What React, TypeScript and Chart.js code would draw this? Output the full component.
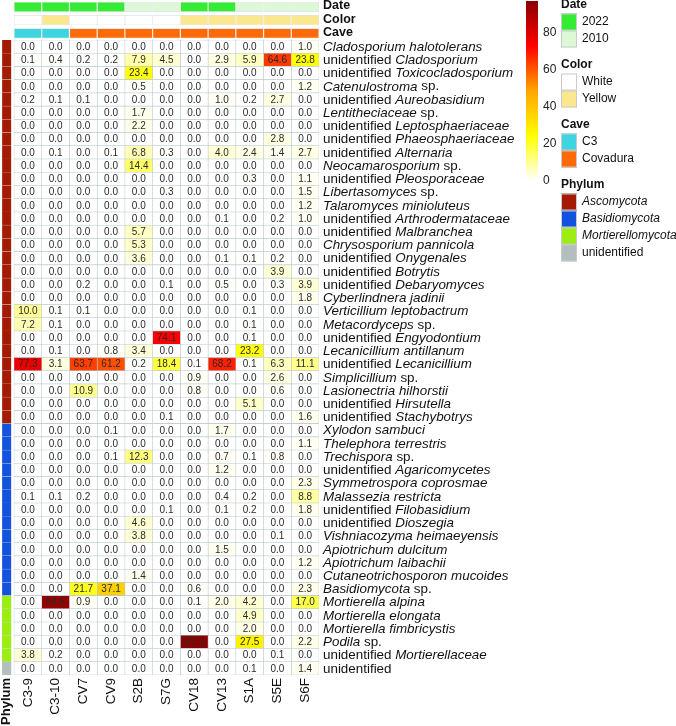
import React, { useEffect, useRef } from 'react';
import { Chart, registerables } from 'chart.js';
Chart.register(...registerables);

const columns = ['C3-9', 'C3-10', 'CV7', 'CV9', 'S2B', 'S7G', 'CV18', 'CV13', 'S1A', 'S5E', 'S6F'];
const dateAnn = ['2022', '2022', '2022', '2022', '2010', '2010', '2022', '2022', '2010', '2010', '2010'];
const colorAnn = ['White', 'Yellow', 'White', 'White', 'White', 'White', 'Yellow', 'Yellow', 'Yellow', 'Yellow', 'Yellow'];
const caveAnn = ['C3', 'C3', 'Covadura', 'Covadura', 'Covadura', 'Covadura', 'Covadura', 'Covadura', 'Covadura', 'Covadura', 'Covadura'];

const taxa = [
  'Cladosporium halotolerans',
  'unidentified Cladosporium',
  'unidentified Toxicocladosporium',
  'Catenulostroma sp.',
  'unidentified Aureobasidium',
  'Lentitheciaceae sp.',
  'unidentified Leptosphaeriaceae',
  'unidentified Phaeosphaeriaceae',
  'unidentified Alternaria',
  'Neocamarosporium sp.',
  'unidentified Pleosporaceae',
  'Libertasomyces sp.',
  'Talaromyces minioluteus',
  'unidentified Arthrodermataceae',
  'unidentified Malbranchea',
  'Chrysosporium pannicola',
  'unidentified Onygenales',
  'unidentified Botrytis',
  'unidentified Debaryomyces',
  'Cyberlindnera jadinii',
  'Verticillium leptobactrum',
  'Metacordyceps sp.',
  'unidentified Engyodontium',
  'Lecanicillium antillanum',
  'unidentified Lecanicillium',
  'Simplicillium sp.',
  'Lasionectria hilhorstii',
  'unidentified Hirsutella',
  'unidentified Stachybotrys',
  'Xylodon sambuci',
  'Thelephora terrestris',
  'Trechispora sp.',
  'unidentified Agaricomycetes',
  'Symmetrospora coprosmae',
  'Malassezia restricta',
  'unidentified Filobasidium',
  'unidentified Dioszegia',
  'Vishniacozyma heimaeyensis',
  'Apiotrichum dulcitum',
  'Apiotrichum laibachii',
  'Cutaneotrichosporon mucoides',
  'Basidiomycota sp.',
  'Mortierella alpina',
  'Mortierella elongata',
  'Mortierella fimbricystis',
  'Podila sp.',
  'unidentified Mortierellaceae',
  'unidentified',
];

const taxonPhylum = [
  ...Array(29).fill('Ascomycota'),
  ...Array(13).fill('Basidiomycota'),
  ...Array(5).fill('Mortierellomycota'),
  'unidentified',
];

// rows = taxa, columns = samples (C3-9 ... S6F)
const values = [
  [0.0, 0.0, 0.0, 0.0, 0.0, 0.0, 0.0, 0.0, 0.0, 0.0, 1.0],
  [0.1, 0.4, 0.2, 0.2, 7.9, 4.5, 0.0, 2.9, 5.9, 64.6, 23.8],
  [0.0, 0.0, 0.0, 0.0, 23.4, 0.0, 0.0, 0.0, 0.0, 0.0, 0.0],
  [0.0, 0.0, 0.0, 0.0, 0.5, 0.0, 0.0, 0.0, 0.0, 0.0, 1.2],
  [0.2, 0.1, 0.1, 0.0, 0.0, 0.0, 0.0, 1.0, 0.2, 2.7, 0.0],
  [0.0, 0.0, 0.0, 0.0, 1.7, 0.0, 0.0, 0.0, 0.0, 0.0, 0.0],
  [0.0, 0.0, 0.0, 0.0, 2.2, 0.0, 0.0, 0.0, 0.0, 0.0, 0.0],
  [0.0, 0.0, 0.0, 0.0, 0.0, 0.0, 0.0, 0.0, 0.0, 2.8, 0.0],
  [0.0, 0.1, 0.0, 0.1, 6.8, 0.3, 0.0, 4.0, 2.4, 1.4, 2.7],
  [0.0, 0.0, 0.0, 0.0, 14.4, 0.0, 0.0, 0.0, 0.0, 0.0, 0.0],
  [0.0, 0.0, 0.0, 0.0, 0.0, 0.0, 0.0, 0.0, 0.3, 0.0, 1.1],
  [0.0, 0.0, 0.0, 0.0, 0.0, 0.3, 0.0, 0.0, 0.0, 0.0, 1.5],
  [0.0, 0.0, 0.0, 0.0, 0.0, 0.0, 0.0, 0.0, 0.0, 0.0, 1.2],
  [0.0, 0.0, 0.0, 0.0, 0.0, 0.0, 0.0, 0.1, 0.0, 0.2, 1.0],
  [0.0, 0.0, 0.0, 0.0, 5.7, 0.0, 0.0, 0.0, 0.0, 0.0, 0.0],
  [0.0, 0.0, 0.0, 0.0, 5.3, 0.0, 0.0, 0.0, 0.0, 0.0, 0.0],
  [0.0, 0.0, 0.0, 0.0, 3.6, 0.0, 0.0, 0.1, 0.1, 0.2, 0.0],
  [0.0, 0.0, 0.0, 0.0, 0.0, 0.0, 0.0, 0.0, 0.0, 3.9, 0.0],
  [0.0, 0.0, 0.2, 0.0, 0.0, 0.1, 0.0, 0.5, 0.0, 0.3, 3.9],
  [0.0, 0.0, 0.0, 0.0, 0.0, 0.0, 0.0, 0.0, 0.0, 0.0, 1.8],
  [10.0, 0.1, 0.1, 0.0, 0.0, 0.0, 0.0, 0.0, 0.1, 0.0, 0.0],
  [7.2, 0.1, 0.0, 0.0, 0.0, 0.0, 0.0, 0.0, 0.1, 0.0, 0.0],
  [0.0, 0.0, 0.0, 0.0, 0.0, 74.1, 0.0, 0.0, 0.1, 0.0, 0.0],
  [0.0, 0.1, 0.0, 0.8, 3.4, 0.0, 0.0, 0.0, 23.2, 0.0, 0.0],
  [77.3, 3.1, 63.7, 61.2, 0.2, 18.4, 0.1, 68.2, 0.1, 6.3, 11.1],
  [0.0, 0.0, 0.0, 0.0, 0.0, 0.0, 0.9, 0.0, 0.0, 2.6, 0.0],
  [0.0, 0.0, 10.9, 0.0, 0.0, 0.0, 0.8, 0.0, 0.0, 0.6, 0.0],
  [0.0, 0.0, 0.0, 0.0, 0.0, 0.0, 0.0, 0.0, 5.1, 0.0, 0.0],
  [0.0, 0.0, 0.0, 0.0, 0.0, 0.1, 0.0, 0.0, 0.0, 0.0, 1.6],
  [0.0, 0.0, 0.0, 0.1, 0.0, 0.0, 0.0, 1.7, 0.0, 0.0, 0.0],
  [0.0, 0.0, 0.0, 0.0, 0.0, 0.0, 0.0, 0.0, 0.0, 0.0, 1.1],
  [0.0, 0.0, 0.0, 0.1, 12.3, 0.0, 0.0, 0.7, 0.1, 0.8, 0.0],
  [0.0, 0.0, 0.0, 0.0, 0.0, 0.0, 0.0, 1.2, 0.0, 0.0, 0.0],
  [0.0, 0.0, 0.0, 0.0, 0.0, 0.0, 0.0, 0.0, 0.0, 0.0, 2.3],
  [0.1, 0.1, 0.2, 0.0, 0.0, 0.0, 0.0, 0.4, 0.2, 0.0, 8.8],
  [0.0, 0.0, 0.0, 0.0, 0.0, 0.1, 0.0, 0.1, 0.2, 0.0, 1.8],
  [0.0, 0.0, 0.0, 0.0, 4.6, 0.0, 0.0, 0.0, 0.0, 0.0, 0.0],
  [0.0, 0.0, 0.0, 0.0, 3.8, 0.0, 0.0, 0.0, 0.0, 0.1, 0.0],
  [0.0, 0.0, 0.0, 0.0, 0.0, 0.0, 0.0, 1.5, 0.0, 0.0, 0.0],
  [0.0, 0.0, 0.0, 0.0, 0.0, 0.0, 0.0, 0.0, 0.0, 0.0, 1.2],
  [0.0, 0.0, 0.0, 0.0, 1.4, 0.0, 0.0, 0.0, 0.0, 0.0, 0.0],
  [0.0, 0.0, 21.7, 37.1, 0.0, 0.0, 0.6, 0.0, 0.0, 0.0, 2.3],
  [0.0, 94.6, 0.9, 0.0, 0.0, 0.0, 0.1, 2.0, 4.2, 0.0, 17.0],
  [0.0, 0.0, 0.0, 0.0, 0.0, 0.0, 0.0, 0.0, 4.9, 0.0, 0.0],
  [0.0, 0.0, 0.0, 0.0, 0.0, 0.0, 0.0, 0.0, 2.0, 0.0, 0.0],
  [0.0, 0.0, 0.0, 0.0, 0.0, 0.0, 97.3, 0.0, 27.5, 0.0, 2.2],
  [3.8, 0.2, 0.0, 0.0, 0.0, 0.0, 0.0, 0.0, 0.0, 0.1, 0.0],
  [0.0, 0.0, 0.0, 0.0, 0.0, 0.0, 0.0, 0.0, 0.1, 0.0, 1.4],
];

const colorbarTicks = [0, 20, 40, 60, 80];
const dateLevels = ['2022', '2010'];
const colorLevels = ['White', 'Yellow'];
const caveLevels = ['C3', 'Covadura'];
const phylumLevels = ['Ascomycota', 'Basidiomycota', 'Mortierellomycota', 'unidentified'];
const annotationNames = ['Date', 'Color', 'Cave'];

const annColors: Record<string, string> = {
  '2022': '#34ec34',
  '2010': '#dcf8d6',
  White: '#ffffff',
  Yellow: '#fbe78e',
  C3: '#3ed4e2',
  Covadura: '#ff6a08',
  Ascomycota: '#a51a02',
  Basidiomycota: '#1252de',
  Mortierellomycota: '#9bee10',
  unidentified: '#b3bfbf',
};

const heatStops: [number, number[]][] = [
  [0, [255, 255, 255]],
  [0.25, [255, 255, 0]],
  [0.5, [255, 165, 0]],
  [0.75, [255, 0, 0]],
  [1, [139, 0, 0]],
];
const vmax = Math.max(...values.flat());

function heatColor(v: number): string {
  const t = Math.max(0, Math.min(1, v / vmax));
  for (let i = 1; i < heatStops.length; i++) {
    const [t1, c1] = heatStops[i];
    const [t0, c0] = heatStops[i - 1];
    if (t <= t1) {
      const f = (t - t0) / (t1 - t0);
      const c = c0.map((a, k) => Math.round(a + (c1[k] - a) * f));
      return `rgb(${c[0]},${c[1]},${c[2]})`;
    }
  }
  return 'rgb(139,0,0)';
}

const FONT = '"Liberation Sans", Arial, Helvetica, sans-serif';
const PHY_X0 = -0.43;
const PHY_X1 = -0.1;

function splitLabel(name: string): { text: string; italic: boolean }[] {
  if (name === 'unidentified') return [{ text: name, italic: false }];
  const parts: { text: string; italic: boolean }[] = [];
  let rest = name;
  if (rest.startsWith('unidentified ')) {
    parts.push({ text: 'unidentified ', italic: false });
    rest = rest.slice('unidentified '.length);
  }
  if (rest.endsWith(' sp.')) {
    parts.push({ text: rest.slice(0, -4), italic: true });
    parts.push({ text: ' sp.', italic: false });
  } else {
    parts.push({ text: rest, italic: true });
  }
  return parts;
}

const rowKeys = [...annotationNames, ...taxa];
const annRows = [dateAnn, colorAnn, caveAnn];

const overlayPlugin = {
  id: 'heatOverlay',
  afterDatasetsDraw(chart: any) {
    const ctx: CanvasRenderingContext2D = chart.ctx;
    const xs = chart.scales.x;
    const ys = chart.scales.y;
    ctx.save();
    // cell values
    ctx.font = `10px ${FONT}`;
    ctx.fillStyle = '#2a2a2a';
    ctx.textAlign = 'center';
    ctx.textBaseline = 'middle';
    values.forEach((row, r) => {
      row.forEach((v, c) => {
        ctx.fillText(v.toFixed(1), xs.getPixelForValue(c + 0.5), ys.getPixelForValue(r + 3) + 0.5);
      });
    });
    // row labels
    const lx = xs.getPixelForValue(11) + 4;
    ctx.textAlign = 'left';
    ctx.fillStyle = '#111';
    taxa.forEach((name, r) => {
      let x = lx;
      const y = ys.getPixelForValue(r + 3) + 0.5;
      splitLabel(name).forEach((p) => {
        ctx.font = `${p.italic ? 'italic ' : ''}13.4px ${FONT}`;
        ctx.fillText(p.text, x, y);
        x += ctx.measureText(p.text).width;
      });
    });
    // annotation names
    ctx.font = `bold 12.5px ${FONT}`;
    annotationNames.forEach((n, i) => {
      ctx.fillText(n, lx, ys.getPixelForValue(i) - 1);
    });
    // bottom column labels (rotated)
    const by = ys.bottom + 3;
    ctx.font = `13.5px ${FONT}`;
    columns.forEach((col, c) => {
      ctx.save();
      ctx.translate(xs.getPixelForValue(c + 0.5), by);
      ctx.rotate(-Math.PI / 2);
      ctx.textAlign = 'right';
      ctx.textBaseline = 'middle';
      ctx.fillText(col, 0, 0);
      ctx.restore();
    });
    ctx.save();
    ctx.font = `bold 13px ${FONT}`;
    ctx.translate(xs.getPixelForValue((PHY_X0 + PHY_X1) / 2), by);
    ctx.rotate(-Math.PI / 2);
    ctx.textAlign = 'right';
    ctx.textBaseline = 'middle';
    ctx.fillText('Phylum', 0, 0);
    ctx.restore();

    // colorbar
    const cbX = 526;
    const cbW = 12;
    const cbBottom = 181;
    const pxPer = 1.85;
    const cbTop = cbBottom - vmax * pxPer;
    const grad = ctx.createLinearGradient(0, cbBottom, 0, cbTop);
    heatStops.forEach(([t, c]) => grad.addColorStop(t, `rgb(${c[0]},${c[1]},${c[2]})`));
    ctx.fillStyle = grad;
    ctx.fillRect(cbX, cbTop, cbW, cbBottom - cbTop);
    ctx.fillStyle = '#222';
    ctx.font = `12px ${FONT}`;
    ctx.textAlign = 'left';
    ctx.textBaseline = 'middle';
    colorbarTicks.forEach((t) => {
      ctx.fillText(String(t), 543, cbBottom - t * pxPer);
    });

    // discrete legends
    const gx = 561;
    const sw = 16;
    const sh = 17;
    const groups: [string, string[], number][] = [
      ['Date', dateLevels, 5],
      ['Color', colorLevels, 65],
      ['Cave', caveLevels, 125],
      ['Phylum', phylumLevels, 185],
    ];
    groups.forEach(([title, levels, ty]) => {
      ctx.font = `bold 12px ${FONT}`;
      ctx.fillStyle = '#111';
      ctx.fillText(title, gx, ty);
      levels.forEach((lv, i) => {
        const y0 = ty + 8.5 + i * sh;
        ctx.fillStyle = annColors[lv];
        ctx.fillRect(gx, y0, sw, sh);
        ctx.strokeStyle = '#c8cccc';
        ctx.lineWidth = 1;
        ctx.strokeRect(gx + 0.5, y0 + 0.5, sw - 1, sh - 1);
        const it = title === 'Phylum' && lv !== 'unidentified';
        ctx.font = `${it ? 'italic ' : ''}12px ${FONT}`;
        ctx.fillStyle = '#111';
        ctx.fillText(lv, gx + sw + 5, y0 + sh / 2);
      });
    });
    ctx.restore();
  },
};

export default function App() {
  const ref = useRef<HTMLCanvasElement | null>(null);
  useEffect(() => {
    document.body.style.margin = '0';
    const canvas = ref.current;
    if (!canvas) return;

    const heatSets = columns.map((col, c) => ({
      label: col,
      data: rowKeys.map((_, i) => (i < 3 ? null : [c, c + 1])),
      backgroundColor: rowKeys.map((_, i) => (i < 3 ? 'rgba(0,0,0,0)' : heatColor(values[i - 3][c]))),
      borderColor: '#bccbcf',
      borderWidth: 0.6,
      borderSkipped: false,
      grouped: false,
      barPercentage: 1,
      categoryPercentage: 1,
    }));
    const annSets = columns.map((col, c) => ({
      label: col + ' annotation',
      data: rowKeys.map((_, i) => (i < 3 ? [c, c + 1] : null)),
      backgroundColor: rowKeys.map((_, i) => (i < 3 ? annColors[annRows[i][c]] : 'rgba(0,0,0,0)')),
      borderColor: '#d3dcda',
      borderWidth: 0.6,
      borderSkipped: false,
      grouped: false,
      barPercentage: 0.76,
      categoryPercentage: 1,
    }));
    const phySet = {
      label: 'Phylum',
      data: rowKeys.map((_, i) => (i < 3 ? null : [PHY_X0, PHY_X1])),
      backgroundColor: rowKeys.map((_, i) => (i < 3 ? 'rgba(0,0,0,0)' : annColors[taxonPhylum[i - 3]])),
      borderColor: '#d0d4d4',
      borderWidth: 0.4,
      borderSkipped: false,
      grouped: false,
      barPercentage: 1,
      categoryPercentage: 1,
    };

    const chart = new Chart(canvas, {
      type: 'bar',
      data: { labels: rowKeys, datasets: [...heatSets, ...annSets, phySet] as any },
      options: {
        indexAxis: 'y',
        responsive: false,
        animation: false,
        layout: { padding: { left: 0, right: 357, top: 0.3, bottom: 51 } },
        scales: {
          x: { type: 'linear', min: -0.505, max: 11, display: false, grid: { display: false } },
          y: { type: 'category', display: false, grid: { display: false } },
        },
        plugins: { legend: { display: false }, tooltip: { enabled: false } },
      },
      plugins: [overlayPlugin],
    });
    return () => chart.destroy();
  }, []);

  return (
    <div style={{ width: 676, height: 726, background: '#fff' }}>
      <canvas ref={ref} width={676} height={726} style={{ width: 676, height: 726, display: 'block' }} />
    </div>
  );
}
